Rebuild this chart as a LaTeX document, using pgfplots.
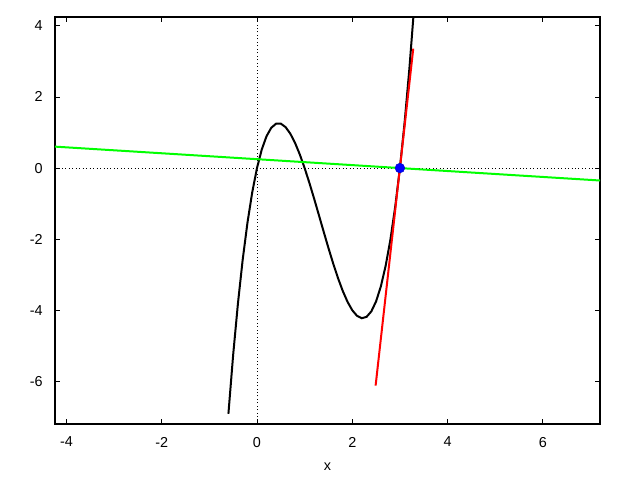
\documentclass[border=0pt]{standalone}
\usepackage{fontspec}
\setmainfont{Liberation Sans}
\usepackage{pgfplots}
\pgfplotsset{compat=1.18}
\begin{document}
\fontsize{10.8}{12}\selectfont
\begin{tikzpicture}
\useasboundingbox (0,0) rectangle (480pt,360pt);
\begin{axis}[
  at={(41.25pt,42pt)}, anchor=south west,
  scale only axis, width=408.75pt, height=305.25pt,
  xmin=-4.24, xmax=7.2, ymin=-7.2, ymax=4.25,
  axis line style={line width=0.9pt},
  xtick={-4,-2,0,2,4,6}, xticklabels={-4,-2,0,2,4,6},
  ytick={-6,-4,-2,0,2,4}, yticklabels={-6,-4,-2,0,2,4},
  tick align=inside, major tick length=3.5pt,
  tick style={line width=0.7pt, black},
  xticklabel style={yshift=-6pt},
  yticklabel style={xshift=-5.5pt},
  xlabel={x},
  xlabel style={at={(axis description cs:0.5,0)}, anchor=center, yshift=-32pt},
  clip=true,
]
\addplot[black, line width=0.6pt, dotted] coordinates {(0,-7.2) (0,4.25)};
\addplot[black, line width=0.6pt, dotted] coordinates {(-4.24,0) (7.2,0)};
\addplot[black, line width=1.5pt] coordinates {
(-0.6,-6.912) (-0.5,-5.25) (-0.4,-3.808) (-0.3,-2.574) (-0.2,-1.536) (-0.1,-0.682)
(0,0) (0.1,0.522) (0.2,0.896) (0.3,1.134) (0.4,1.248) (0.5,1.25) (0.6,1.152)
(0.7,0.966) (0.8,0.704) (0.9,0.378) (1.0,0) (1.1,-0.418) (1.2,-0.864) (1.3,-1.326)
(1.4,-1.792) (1.5,-2.25) (1.6,-2.688) (1.7,-3.094) (1.8,-3.456) (1.9,-3.762)
(2.0,-4) (2.1,-4.158) (2.2,-4.224) (2.3,-4.186) (2.4,-4.032) (2.5,-3.75)
(2.6,-3.328) (2.7,-2.754) (2.8,-2.016) (2.9,-1.102) (3.0,0) (3.1,1.302)
(3.2,2.816) (3.3,4.554)};
\addplot[red, line width=1.5pt] coordinates {(2.49,-6.12) (3.28,3.36)};
\addplot[green, line width=1.5pt] coordinates {(-4.24,0.603) (7.2,-0.35)};
\addplot[only marks, mark=*, mark size=3.6pt, mark options={fill=blue, draw=blue!80!black}] coordinates {(3,0)};
\end{axis}
\end{tikzpicture}
\end{document}
